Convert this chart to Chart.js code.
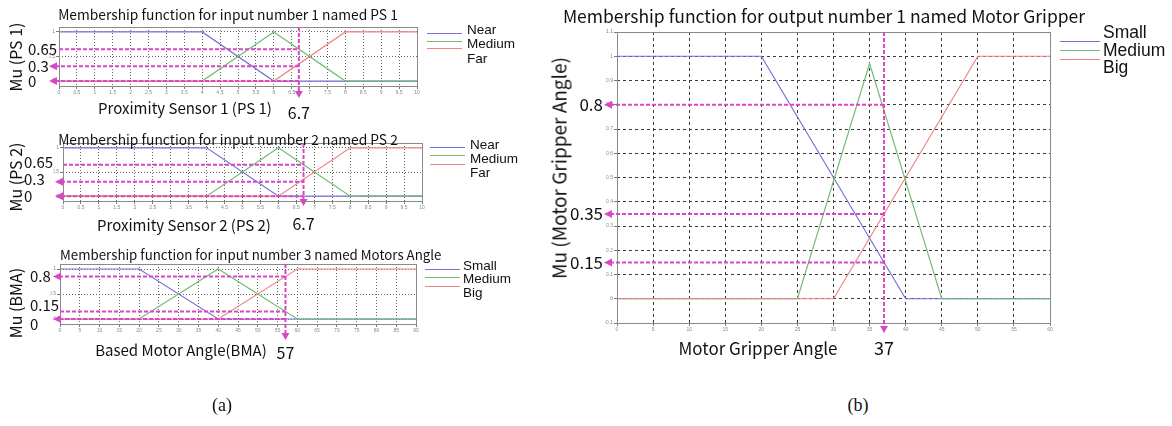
<!DOCTYPE html>
<html lang="en">
<head>
<meta charset="utf-8">
<title>Membership functions</title>
<script src="https://cdn.jsdelivr.net/npm/chart.js@4.4.1/dist/chart.umd.min.js"></script>
<style>
  body { margin: 0; background: #fff; }
  #page { position: relative; width: 1172px; height: 426px; overflow: hidden; font-family: "Noto Sans CJK JP", "Noto Sans", sans-serif; color: #111; }
  canvas { position: absolute; }
  .txt { position: absolute; white-space: nowrap; line-height: 1; transform: translate(-50%, -50%); }
  .rot { transform: translate(-50%, -50%) rotate(-90deg); }
  .from-left { transform: translate(0, -50%); }
  .leg { position: absolute; font-family: "Liberation Sans", Arial, sans-serif; line-height: 1; white-space: nowrap; transform: translate(0, -50%); }
  .leg-line { position: absolute; height: 0; border-top: 1px solid; }
  .cap { font-family: "Liberation Serif", "Times New Roman", serif; font-size: 18px; }
</style>
</head>
<body>
<div id="page">
  <canvas id="ps1" width="440" height="125" style="left:0;top:0"></canvas>
  <canvas id="ps2" width="440" height="125" style="left:0;top:125px"></canvas>
  <canvas id="bma" width="440" height="130" style="left:0;top:250px"></canvas>
  <canvas id="grip" width="530" height="360" style="left:540px;top:0"></canvas>

  <div class="txt" style="left:228px;top:15px;font-size:13.8px">Membership function for input number 1 named PS 1</div>
  <div class="txt rot" style="left:15px;top:57px;font-size:16px">Mu (PS 1)</div>
  <div class="txt" style="left:185px;top:107px;font-size:15px">Proximity Sensor 1 (PS 1)</div>

  <div class="txt" style="left:228px;top:140px;font-size:13.8px">Membership function for input number 2 named PS 2</div>
  <div class="txt rot" style="left:15px;top:177px;font-size:16px">Mu (PS 2)</div>
  <div class="txt" style="left:184px;top:224px;font-size:15px">Proximity Sensor 2 (PS 2)</div>

  <div class="txt from-left" style="left:60px;top:255px;font-size:13.3px">Membership function for input number 3 named Motors Angle</div>
  <div class="txt rot" style="left:15px;top:303px;font-size:16px">Mu (BMA)</div>
  <div class="txt" style="left:181px;top:349px;font-size:15px">Based Motor Angle(BMA)</div>

  <div class="txt" style="left:824px;top:16px;font-size:17.5px">Membership function for output number 1 named Motor Gripper</div>
  <div class="txt rot" style="left:558px;top:168px;font-size:19px">Mu (Motor Gripper Angle)</div>
  <div class="txt" style="left:758px;top:347px;font-size:17px">Motor Gripper Angle</div>

  <div class="txt cap" style="left:222px;top:405px">(a)</div>
  <div class="txt cap" style="left:858px;top:405px">(b)</div>
</div>

<script>
// Entrées 1 et 2 : capteurs de proximité PS 1 / PS 2
const psNames = ['Near', 'Medium', 'Far'];
const psX = [0, 4, 6, 8, 10];
const psNear = [1, 1, 0, 0, 0];
const psMedium = [0, 0, 1, 0, 0];
const psFar = [0, 0, 0, 1, 1];
const psTicksX = [0, 0.5, 1, 1.5, 2, 2.5, 3, 3.5, 4, 4.5, 5, 5.5, 6, 6.5, 7, 7.5, 8, 8.5, 9, 9.5, 10];
const psInput = 6.7;
const psCuts = [0.65, 0.3, 0];
const psCutLabels = ['0.65', '0.3', '0'];

// Entrée 3 : angle moteur (BMA)
const bmaNames = ['Small', 'Medium', 'Big'];
const bmaX = [0, 20, 40, 60, 90];
const bmaSmall = [1, 1, 0, 0, 0];
const bmaMedium = [0, 0, 1, 0, 0];
const bmaBig = [0, 0, 0, 1, 1];
const bmaTicksX = [0, 5, 10, 15, 20, 25, 30, 35, 40, 45, 50, 55, 60, 65, 70, 75, 80, 85, 90];
const bmaInput = 57;
const bmaCuts = [0.85, 0.15, 0];
const bmaCutLabels = ['0.8', '0.15', '0'];

// Sortie : angle de la pince
const gripNames = ['Small', 'Medium', 'Big'];
const gripSmallX = [0, 20, 40, 60];
const gripSmallY = [1, 1, 0, 0];
const gripMediumX = [0, 25, 35, 45, 60];
const gripMediumY = [0, 0, 0.97, 0, 0];
const gripBigX = [0, 30, 50, 60];
const gripBigY = [0, 0, 1, 1];
const gripTicksX = [0, 5, 10, 15, 20, 25, 30, 35, 40, 45, 50, 55, 60];
const gripTicksY = [-0.1, 0, 0.1, 0.2, 0.3, 0.4, 0.5, 0.6, 0.7, 0.8, 0.9, 1, 1.1];
const gripInput = 37;
const gripCuts = [0.8, 0.35, 0.15];
const gripCutLabels = ['0.8', '0.35', '0.15'];

const muTicks = [0, 0.5, 1];

const lineColors = ['#7272d8', '#72bc72', '#f08484'];
const page = document.getElementById('page');

// Lignes de coupe en pointillés magenta + cadre du graphique
const cutLinesPlugin = {
    id: 'cutLines',
    afterDatasetsDraw(chart, args, opts) {
        const { ctx, chartArea: area } = chart;
        const xs = chart.scales.x, ys = chart.scales.y;
        ctx.save();
        ctx.setLineDash([]);
        ctx.strokeStyle = '#8a8a8a';
        ctx.lineWidth = 1;
        ctx.strokeRect(area.left + 0.5, area.top + 0.5, area.width, area.height);

        const xi = xs.getPixelForValue(opts.input);
        ctx.strokeStyle = opts.color;
        ctx.fillStyle = opts.color;
        ctx.lineWidth = 2;

        opts.cuts.forEach((v, i) => {
            const py = ys.getPixelForValue(v);
            const tip = area.left - opts.arrowGap;
            const start = opts.arrows[i] ? tip + 6 : area.left;
            ctx.setLineDash([4, 2]);
            ctx.beginPath();
            ctx.moveTo(start, py);
            ctx.lineTo(xi, py);
            ctx.stroke();
            if (opts.arrows[i]) {
                ctx.setLineDash([]);
                ctx.beginPath();
                ctx.moveTo(tip, py);
                ctx.lineTo(tip + 8, py - 4);
                ctx.lineTo(tip + 8, py + 4);
                ctx.closePath();
                ctx.fill();
            }
        });

        // ligne verticale de l'entrée
        const yb = area.bottom + opts.tipDrop;
        ctx.setLineDash([4, 2]);
        ctx.beginPath();
        ctx.moveTo(xi, area.top);
        ctx.lineTo(xi, yb - 6);
        ctx.stroke();
        ctx.setLineDash([]);
        ctx.beginPath();
        ctx.moveTo(xi, yb);
        ctx.lineTo(xi - 4, yb - 7);
        ctx.lineTo(xi + 4, yb - 7);
        ctx.closePath();
        ctx.fill();

        // étiquettes
        ctx.fillStyle = '#111';
        ctx.textBaseline = 'middle';
        ctx.font = opts.cutFont;
        ctx.textAlign = opts.labelAlign;
        opts.cuts.forEach((v, i) => {
            const shift = opts.labelShift ? opts.labelShift[i] : 0;
            ctx.fillText(opts.cutLabels[i], opts.labelX, ys.getPixelForValue(v) + shift);
        });
        ctx.textAlign = 'center';
        ctx.font = opts.inputFont;
        ctx.fillText(opts.inputLabel, xi, area.bottom + opts.inputLabelDrop);
        ctx.restore();
    }
};

function fmt(v) {
    return String(Math.round(v * 10) / 10);
}

function makeChart(id, cfg) {
    const n = cfg.series.length;
    return new Chart(document.getElementById(id), {
        type: 'line',
        data: {
            datasets: cfg.series.map((s, i) => ({
                label: cfg.names[i],
                data: s.x.map((v, k) => ({ x: v, y: s.y[k] })),
                borderColor: lineColors[i],
                borderWidth: 1.2,
                pointRadius: 0,
                fill: false,
                tension: 0,
                order: n - 1 - i   // la dernière série passe au-dessus
            }))
        },
        options: {
            responsive: false,
            animation: false,
            devicePixelRatio: 1,
            layout: { padding: cfg.padding },
            plugins: {
                legend: { display: false },
                tooltip: { enabled: false },
                cutLines: cfg.cut
            },
            scales: {
                x: {
                    type: 'linear',
                    min: cfg.xTicks[0],
                    max: cfg.xTicks[cfg.xTicks.length - 1],
                    afterBuildTicks: s => { s.ticks = cfg.xTicks.map(v => ({ value: v })); },
                    afterFit: s => { s.height = 10; },
                    grid: { color: cfg.gridColor, lineWidth: 1, tickLength: 3, tickColor: '#777' },
                    border: { display: false, dash: cfg.gridDash },
                    ticks: { font: { size: 5 }, color: '#888', padding: 1, maxRotation: 0, autoSkip: false, callback: fmt }
                },
                y: {
                    type: 'linear',
                    min: -0.1,
                    max: 1.1,
                    afterBuildTicks: s => { s.ticks = cfg.yTicks.map(v => ({ value: v })); },
                    afterFit: s => { s.width = cfg.yWidth; },
                    grid: { color: cfg.gridColor, lineWidth: 1, tickLength: 3, tickColor: '#777' },
                    border: { display: false, dash: cfg.gridDash },
                    ticks: { font: { size: 5 }, color: '#888', padding: 1, autoSkip: false, callback: fmt }
                }
            }
        },
        plugins: [cutLinesPlugin]
    });
}

function addLegend(names, box) {
    names.forEach((name, i) => {
        const line = document.createElement('div');
        line.className = 'leg-line';
        line.style.left = box.x + 'px';
        line.style.width = box.lineW + 'px';
        line.style.top = box.lineY[i] + 'px';
        line.style.borderColor = lineColors[i];
        page.appendChild(line);
        const t = document.createElement('div');
        t.className = 'leg';
        t.textContent = name;
        t.style.left = box.textX + 'px';
        t.style.top = box.textY[i] + 'px';
        t.style.fontSize = box.size + 'px';
        page.appendChild(t);
    });
}

const leftGrid = { gridColor: '#666', gridDash: [1, 2], yWidth: 10 };
const magenta = '#dc46c4';

makeChart('ps1', Object.assign({
    names: psNames,
    series: [{ x: psX, y: psNear }, { x: psX, y: psMedium }, { x: psX, y: psFar }],
    xTicks: psTicksX, yTicks: muTicks,
    padding: { left: 49, right: 23, top: 27, bottom: 29 },
    cut: {
        input: psInput, inputLabel: String(psInput), cuts: psCuts, cutLabels: psCutLabels,
        arrows: [false, true, true], arrowGap: 10, labelAlign: 'left', labelX: 28,
        cutFont: '15px "Noto Sans CJK JP"', inputFont: '16px "Noto Sans CJK JP"',
        tipDrop: 12, inputLabelDrop: 27, color: magenta
    }
}, leftGrid));

makeChart('ps2', Object.assign({
    names: psNames,
    series: [{ x: psX, y: psNear }, { x: psX, y: psMedium }, { x: psX, y: psFar }],
    xTicks: psTicksX, yTicks: muTicks,
    padding: { left: 53, right: 18, top: 18, bottom: 39 },
    cut: {
        input: psInput, inputLabel: String(psInput), cuts: psCuts, cutLabels: psCutLabels,
        arrows: [false, true, true], arrowGap: 8, labelAlign: 'left', labelX: 24,
        labelShift: [-2, -2, 0],
        cutFont: '15px "Noto Sans CJK JP"', inputFont: '16px "Noto Sans CJK JP"',
        tipDrop: 5, inputLabelDrop: 23, color: magenta
    }
}, leftGrid));

makeChart('bma', Object.assign({
    names: bmaNames,
    series: [{ x: bmaX, y: bmaSmall }, { x: bmaX, y: bmaMedium }, { x: bmaX, y: bmaBig }],
    xTicks: bmaTicksX, yTicks: muTicks,
    padding: { left: 50, right: 24, top: 14, bottom: 46 },
    cut: {
        input: bmaInput, inputLabel: String(bmaInput), cuts: bmaCuts, cutLabels: bmaCutLabels,
        arrows: [true, false, true], arrowGap: 7, labelAlign: 'left', labelX: 30,
        labelShift: [0, -6, 5],
        cutFont: '15px "Noto Sans CJK JP"', inputFont: '16px "Noto Sans CJK JP"',
        tipDrop: 16, inputLabelDrop: 29, color: magenta
    }
}, leftGrid));

makeChart('grip', {
    names: gripNames,
    series: [{ x: gripSmallX, y: gripSmallY }, { x: gripMediumX, y: gripMediumY }, { x: gripBigX, y: gripBigY }],
    xTicks: gripTicksX, yTicks: gripTicksY,
    gridColor: '#3a3a3a', gridDash: [3, 3], yWidth: 12,
    padding: { left: 65, right: 20, top: 32, bottom: 27 },
    cut: {
        input: gripInput, inputLabel: String(gripInput), cuts: gripCuts, cutLabels: gripCutLabels,
        arrows: [true, true, true], arrowGap: 13, labelAlign: 'right', labelX: 63,
        cutFont: '17px "Noto Sans CJK JP"', inputFont: '18px "Noto Sans CJK JP"',
        tipDrop: 10, inputLabelDrop: 25, color: magenta
    }
});

addLegend(psNames, { x: 427, lineW: 35, lineY: [33, 41, 48], textX: 467, textY: [30, 44, 59], size: 13.5 });
addLegend(psNames, { x: 430, lineW: 35, lineY: [147, 155, 164], textX: 470, textY: [145, 159, 173], size: 13.5 });
addLegend(bmaNames, { x: 425, lineW: 35, lineY: [269, 277, 286], textX: 463, textY: [266, 279, 293], size: 13.5 });
addLegend(gripNames, { x: 1060, lineW: 40, lineY: [41, 50, 59], textX: 1103, textY: [33, 51, 68], size: 17.5 });
</script>
</body>
</html>
